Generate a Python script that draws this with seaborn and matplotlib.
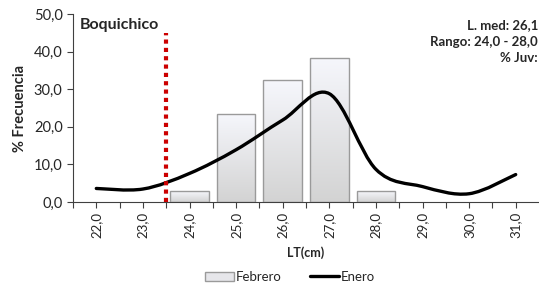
import numpy as np
import matplotlib
matplotlib.use("Agg")
import matplotlib.pyplot as plt
import seaborn as sns
from matplotlib.path import Path
from matplotlib.patches import PathPatch, Patch
from matplotlib.lines import Line2D

# ---- data ----
lengths = [22.0, 23.0, 24.0, 25.0, 26.0, 27.0, 28.0, 29.0, 30.0, 31.0]
febrero = [0.0, 0.0, 2.9, 23.5, 32.4, 38.3, 2.9, 0.0, 0.0, 0.0]
enero = [3.6, 3.45, 7.6, 13.9, 21.8, 28.8, 8.7, 4.1, 2.2, 7.3]
tick_labels = ["22,0", "23,0", "24,0", "25,0", "26,0", "27,0", "28,0", "29,0", "30,0", "31,0"]
y_ticks = [0, 10, 20, 30, 40, 50]
y_tick_labels = ["0,0", "10,0", "20,0", "30,0", "40,0", "50,0"]
juv_limit = 23.5
juv_line_top = 45.0
title = "Boquichico"
info_lines = ["L. med: 26,1", "Rango: 24,0 - 28,0", "% Juv:"]

sns.set_theme(style="white")
plt.rcParams["font.family"] = ["Lato", "DejaVu Sans"]

fig = plt.figure(figsize=(5.39, 2.88), dpi=100)
ax = fig.add_axes([73 / 539, 86 / 288, 1 - 73 / 539, 188 / 288])

# bars (only non-zero classes)
bx = [l for l, v in zip(lengths, febrero) if v > 0]
by = [v for v in febrero if v > 0]
sns.barplot(x=bx, y=by, native_scale=True, width=0.83, ax=ax,
            facecolor="none", edgecolor="#9a9a9a", linewidth=1.0, zorder=3)

grad = np.linspace(0, 1, 256).reshape(-1, 1)
cmap = matplotlib.colors.LinearSegmentedColormap.from_list(
    "g", ["#f6f7fc", "#d3d3d3"])
for p in list(ax.patches):
    x0, y0 = p.get_x(), p.get_y()
    w, h = p.get_width(), p.get_height()
    im = ax.imshow(grad[::-1], cmap=cmap, aspect="auto",
                   extent=[x0, x0 + w, y0 + h, y0], origin="upper", zorder=2)
    im.set_clip_path(p)

# smoothed line (Bezier through the data points)
pts = np.column_stack([lengths, enero])
verts = [tuple(pts[0])]
codes = [Path.MOVETO]
n = len(pts)
for i in range(n - 1):
    p0 = pts[i - 1] if i > 0 else pts[i]
    p1 = pts[i]
    p2 = pts[i + 1]
    p3 = pts[i + 2] if i + 2 < n else pts[i + 1]
    c1 = p1 + (p2 - p0) / 6.0
    c2 = p2 - (p3 - p1) / 6.0
    verts += [tuple(c1), tuple(c2), tuple(p2)]
    codes += [Path.CURVE4] * 3
ax.add_patch(PathPatch(Path(verts, codes), facecolor="none",
                       edgecolor="black", linewidth=2.4, zorder=5,
                       capstyle="round", joinstyle="round"))

# juvenile limit line
ax.plot([juv_limit, juv_limit], [0, juv_line_top], color="#cc0000",
        linewidth=3, linestyle=(0, (1, 1)), dash_capstyle="butt", zorder=6)

ax.set_xlim(21.5, 31.5)
ax.set_ylim(0, 50)
ax.set_xticks(lengths)
ax.set_xticklabels(tick_labels, rotation=90, fontsize=9.5)
ax.set_xticks([l + 0.5 for l in [21.0] + lengths[:-1]], minor=True)
ax.set_yticks(y_ticks)
ax.set_yticklabels(y_tick_labels, fontsize=10.5)
ax.tick_params(axis="both", which="both", direction="out", length=4,
               width=0.8, color="#404040", colors="#262626")
ax.tick_params(axis="x", which="both", bottom=True, pad=3)
ax.tick_params(axis="y", left=True)
for s in ["top", "right"]:
    ax.spines[s].set_visible(False)
for s in ["left", "bottom"]:
    ax.spines[s].set_color("#404040")
    ax.spines[s].set_linewidth(0.8)
ax.grid(False)

ax.set_xlabel("LT(cm)", fontsize=9, fontweight="bold", labelpad=6)
ax.set_ylabel("% Frecuencia", fontsize=10.5, fontweight="bold", labelpad=5)

fig.text(80 / 539, 1 - 25 / 288, title, fontsize=11.5, fontweight="bold",
         va="center", ha="left")
for i, t in enumerate(info_lines):
    fig.text(538 / 539, 1 - (25 + 16.5 * i) / 288, t, fontsize=9.5,
             fontweight="bold", ha="right", va="center")

handles = [Patch(facecolor="#e6e6ea", edgecolor="#9a9a9a", linewidth=1.0),
           Line2D([0], [0], color="black", linewidth=2.4)]
fig.legend(handles, ["Febrero", "Enero"], loc="center",
           bbox_to_anchor=(290 / 539, 1 - 277 / 288), ncol=2, frameon=False,
           fontsize=9.5, handlelength=2.2, handletextpad=0.1, columnspacing=2.2)

fig.savefig("out.png", dpi=100)
